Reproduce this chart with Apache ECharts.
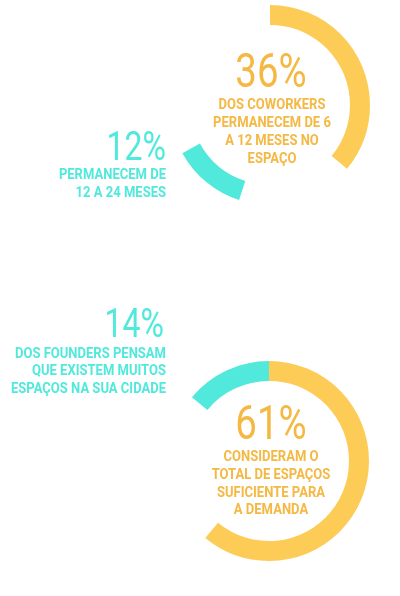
<!DOCTYPE html>
<html><head><meta charset="utf-8">
<script src="https://cdn.jsdelivr.net/npm/echarts@6/dist/echarts.min.js"></script>
<style>html,body{margin:0;padding:0;background:#fff}#c{width:400px;height:596px}</style>
</head><body><div id="c"></div>
<script>
// Top donut: yellow share, gap, teal share, gap
const topNames = ['6 a 12 meses', 'gap1', '12 a 24 meses', 'gap2'];
const topValues = [36, 19, 12, 33];
// Bottom donut: yellow share, gap, teal share
const bottomNames = ['suficiente', 'gap', 'muitos'];
const bottomValues = [61, 25, 14];

const topMainText = ['DOS COWORKERS', 'PERMANECEM DE 6', 'A 12 MESES NO', 'ESPAÇO'];
const topSideText = ['PERMANECEM DE', '12 A 24 MESES'];
const bottomSideText = ['DOS FOUNDERS PENSAM', 'QUE EXISTEM MUITOS', 'ESPAÇOS NA SUA CIDADE'];
const bottomMainText = ['CONSIDERAM O', 'TOTAL DE ESPAÇOS', 'SUFICIENTE PARA', 'A DEMANDA'];

const YELLOW = '#FCCC56', YELLOW_TXT = '#F4B843', TEAL = '#50E9DC';
const FONT = 'Roboto';
const BIG_SX = 0.8, SMALL_SX = 0.93;

function txt(x, y, s, size, weight, color, align, sx) {
  return { type: 'text', x: x, y: y, scaleX: sx, silent: true,
    style: { text: s, font: weight + ' ' + size + 'px ' + FONT, fill: color,
      textAlign: align, textVerticalAlign: 'top' } };
}
function block(x, y0, lines, color, align) {
  return lines.map((s, i) => txt(x, y0 + i * 17.7, s, 14, 700, color, align, SMALL_SX));
}
const mk = (names, vals, cols) => vals.map((v, i) => ({ name: names[i], value: v,
  itemStyle: { color: cols[i] } }));

const graphics = [].concat(
  [txt(271, 51.2, topValues[0] + '%', 48, 400, YELLOW_TXT, 'center', BIG_SX)],
  block(272, 98.9, topMainText, YELLOW_TXT, 'center'),
  [txt(166, 129.5, topValues[2] + '%', 40, 400, TEAL, 'right', BIG_SX)],
  block(166, 168.9, topSideText, TEAL, 'right'),
  [txt(164, 306.8, bottomValues[2] + '%', 40, 400, TEAL, 'right', BIG_SX)],
  block(166, 347.2, bottomSideText, TEAL, 'right'),
  [txt(271, 403.2, bottomValues[0] + '%', 48, 400, YELLOW_TXT, 'center', BIG_SX)],
  block(271, 450.6, bottomMainText, YELLOW_TXT, 'center')
);

const chart = echarts.init(document.getElementById('c'), null, { renderer: 'canvas' });
const pieBase = { type: 'pie', radius: [80, 100], startAngle: 90, clockwise: true,
  silent: true, label: { show: false }, labelLine: { show: false },
  emphasis: { disabled: true }, animation: false, avoidLabelOverlap: false };
chart.setOption({
  animation: false,
  backgroundColor: '#ffffff',
  series: [
    Object.assign({}, pieBase, { center: [270, 105],
      data: mk(topNames, topValues, [YELLOW, 'rgba(0,0,0,0)', TEAL, 'rgba(0,0,0,0)']) }),
    Object.assign({}, pieBase, { center: [269, 461],
      data: mk(bottomNames, bottomValues, [YELLOW, 'rgba(0,0,0,0)', TEAL]) })
  ],
  graphic: graphics
});
</script></body></html>
